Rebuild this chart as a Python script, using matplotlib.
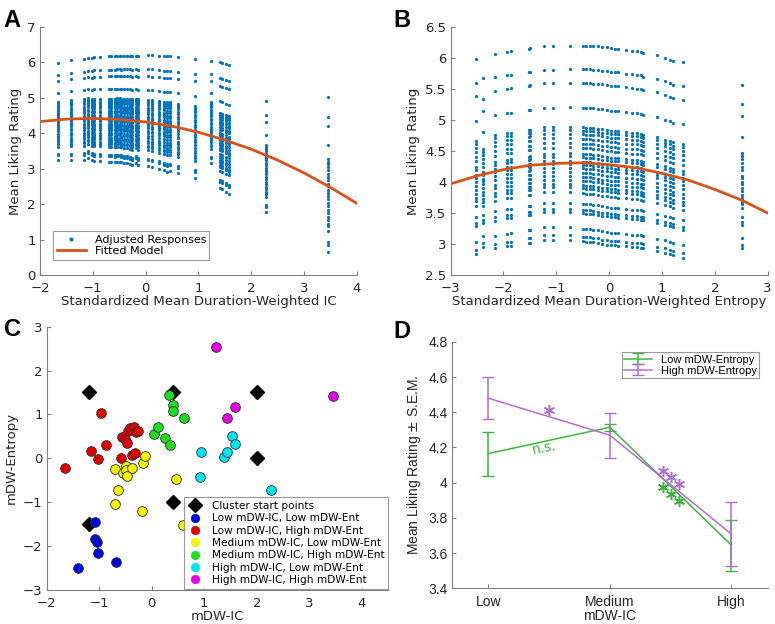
import numpy as np
import matplotlib
matplotlib.use('Agg')
import matplotlib.pyplot as plt

plt.rcParams['font.family'] = 'DejaVu Sans'

# ---- Panel A : columns of adjusted responses (x = IC, top / bottom of column)
a_x  = [-1.65, -1.42, -1.16, -1.09, -1.02, -0.97, -0.87, -0.70, -0.65, -0.58, -0.54, -0.49,
        -0.46, -0.41, -0.35, -0.30, -0.26, -0.19, -0.15, 0.05, 0.12, 0.26, 0.34, 0.41,
        0.46, 0.62, 0.94, 1.23, 1.40, 1.44, 1.52, 1.58, 2.27, 3.46]
a_hi = [5.99, 6.06, 6.10, 6.12, 6.12, 6.15, 6.15, 6.17, 6.17, 6.18, 6.18, 6.18,
        6.18, 6.19, 6.19, 6.19, 6.19, 6.19, 6.19, 6.20, 6.20, 6.18, 6.18, 6.17,
        6.17, 6.15, 6.10, 6.03, 6.00, 5.98, 5.96, 5.94, 4.92, 5.03]
a_lo = [3.24, 3.24, 3.24, 3.30, 3.25, 3.22, 3.22, 3.20, 3.20, 3.18, 3.20, 3.20,
        3.18, 3.15, 3.15, 3.12, 3.10, 3.15, 3.10, 3.08, 3.05, 3.00, 2.95, 2.92,
        2.93, 2.87, 2.75, 3.15, 2.45, 2.42, 2.35, 2.30, 1.77, 0.64]
# rating rows seen in a typical column (from 3.2 to 6.2)
a_rows = [6.20, 5.82, 5.63, 5.27, 5.00, 4.95, 4.90, 4.85, 4.78, 4.72, 4.65, 4.60, 4.52,
          4.47, 4.40, 4.35, 4.28, 4.22, 4.15, 4.10, 4.02, 3.95, 3.88, 3.82, 3.75, 3.70,
          3.62, 3.40, 3.35, 3.20]
a_fit_x = [-2, -1.5, -1, -0.5, 0, 0.5, 1, 1.5, 2, 2.5, 3, 3.5, 4]
a_fit_y = [4.33, 4.40, 4.42, 4.39, 4.32, 4.20, 4.03, 3.81, 3.55, 3.24, 2.88, 2.47, 2.02]

# ---- Panel B : columns (x = entropy)
b_x  = [-2.52, -2.38, -2.16, -1.93, -1.85, -1.52, -1.49, -1.23, -1.06, -0.74, -0.49, -0.43,
        -0.37, -0.30, -0.22, -0.14, -0.05, 0.04, 0.12, 0.17, 0.31, 0.43, 0.52, 0.60, 0.65,
        0.90, 1.06, 1.16, 1.21, 1.40, 2.51]
b_hi = [5.98, 5.67, 6.07, 6.10, 6.11, 6.15, 6.16, 6.19, 6.19, 6.20, 6.20, 6.20,
        6.20, 6.19, 6.19, 6.18, 6.17, 6.16, 6.15, 6.15, 6.13, 6.12, 6.11, 6.10, 6.08,
        6.05, 6.00, 5.97, 5.95, 5.93, 5.57]
b_lo = [2.84, 2.95, 2.93, 2.97, 2.97, 3.02, 3.02, 3.07, 3.07, 3.07, 3.05, 3.04,
        3.04, 3.03, 3.02, 3.00, 2.99, 2.98, 2.98, 2.97, 2.96, 2.95, 2.95, 2.94, 2.93,
        2.88, 2.86, 2.84, 2.82, 2.78, 2.93]
b_rows = [6.20, 5.82, 5.60, 5.20, 4.88, 4.83, 4.77, 4.70, 4.62, 4.55, 4.45, 4.40, 4.33,
          4.28, 4.22, 4.15, 4.08, 4.02, 3.95, 3.90, 3.82, 3.65, 3.55, 3.50, 3.25, 3.12, 3.05]
b_fit_x = [-3, -2.5, -2, -1.5, -1, -0.5, 0, 0.5, 1, 1.5, 2, 2.5, 3]
b_fit_y = [3.97, 4.10, 4.20, 4.27, 4.30, 4.31, 4.28, 4.23, 4.14, 4.03, 3.88, 3.71, 3.50]

# ---- Panel C : cluster points (mDW-IC, mDW-Entropy)
start_ic  = [-1.2, 0.4, 2.0, -1.2, 0.4, 2.0]
start_ent = [1.5, 1.5, 1.5, -1.5, -1.0, 0.0]
clusters = {
    'Low mDW-IC, Low mDW-Ent': ([-1.41, -1.09, -1.09, -1.04, -1.02, -0.68],
                                [-2.50, -1.46, -1.84, -1.90, -2.15, -2.37]),
    'Low mDW-IC, High mDW-Ent': ([-1.66, -1.16, -1.02, -0.97, -0.87, -0.59, -0.56, -0.50,
                                 -0.48, -0.46, -0.41, -0.34, -0.30, -0.26, -0.37, -0.31],
                                [-0.21, 0.16, -0.01, 1.04, 0.31, 0.01, 0.49, 0.43,
                                 0.34, 0.62, 0.68, 0.71, 0.59, 0.62, 0.08, 0.13]),
    'Medium mDW-IC, Low mDW-Ent': ([-0.70, -0.65, -0.70, -0.54, -0.49, -0.49, -0.48, -0.37,
                                   -0.16, -0.12, -0.19, 0.46, 0.60],
                                  [-0.25, -0.72, -1.05, -0.34, -0.18, -0.26, -0.40, -0.21,
                                   -0.11, 0.05, -1.21, -0.48, -1.52]),
    'Medium mDW-IC, High mDW-Ent': ([0.05, 0.12, 0.26, 0.34, 0.33, 0.41, 0.41, 0.62],
                                   [0.55, 0.71, 0.46, 0.31, 1.45, 1.22, 1.07, 0.92]),
    'High mDW-IC, Low mDW-Ent': ([0.94, 0.92, 1.38, 1.44, 1.52, 1.58, 2.27],
                                [0.15, -0.43, 0.04, 0.15, 0.52, 0.33, -0.72]),
    'High mDW-IC, High mDW-Ent': ([1.23, 1.43, 1.58, 3.46],
                                 [2.54, 0.93, 1.16, 1.41]),
}
cluster_colors = ['#0000e6', '#e00000', '#f5f500', '#1edc1e', '#00e6f0', '#e600e6']

# ---- Panel D : means and S.E.M.
levels = ['Low', 'Medium', 'High']
low_ent_mean = [4.165, 4.315, 3.645]
low_ent_sem  = [0.125, 0.02, 0.145]
high_ent_mean = [4.48, 4.27, 3.708]
high_ent_sem  = [0.12, 0.128, 0.18]
# significance stars (x, y)
star1_x, star1_y = [1.50], [4.41]
star3p_x, star3p_y = [2.44, 2.50, 2.57], [4.065, 4.03, 3.99]
star3g_x, star3g_y = [2.44, 2.50, 2.57], [3.975, 3.935, 3.895]

blue = '#0072bd'
orange = '#d95319'
axcol = '#808080'
txtcol = '#262626'


def style(ax):
    for s in ['top', 'right']:
        ax.spines[s].set_visible(False)
    for s in ['left', 'bottom']:
        ax.spines[s].set_color(axcol)
        ax.spines[s].set_linewidth(0.8)
    ax.tick_params(direction='in', length=3, color=axcol, labelcolor=txtcol, labelsize=9.5, pad=3)
    ax.tick_params(axis='x', pad=5)


def columns(xs, his, los, rows):
    rows = np.array(rows)
    frac = (rows - rows.min()) / (rows.max() - rows.min())
    px, py = [], []
    for x, hi, lo in zip(xs, his, los):
        px += [x] * len(rows)
        py += list(lo + frac * (hi - lo))
    return px, py


fig = plt.figure(figsize=(7.75, 6.24), dpi=100)

# Panel A
axA = fig.add_axes([0.0516, 0.5593, 0.409, 0.3974])
px, py = columns(a_x, a_hi, a_lo, a_rows)
axA.plot(px, py, '.', color=blue, ms=2.6, label='Adjusted Responses')
axA.plot(a_fit_x, a_fit_y, '-', color=orange, lw=2, label='Fitted Model')
axA.set_xlim(-2, 4)
axA.set_ylim(0, 7)
axA.set_xlabel('Standardized Mean Duration-Weighted IC', fontsize=9.5, color=txtcol, labelpad=0)
axA.set_ylabel('Mean Liking Rating', fontsize=9.5, color=txtcol)
style(axA)
legA = axA.legend(loc='lower left', fontsize=8, frameon=True, fancybox=False,
                  edgecolor=axcol, borderpad=0.3, labelspacing=0.15, handlelength=2.6,
                  bbox_to_anchor=(0.025, 0.04), markerscale=1.5)
legA.get_frame().set_linewidth(0.8)

# Panel B
axB = fig.add_axes([0.5815, 0.5593, 0.409, 0.3974])
px, py = columns(b_x, b_hi, b_lo, b_rows)
axB.plot(px, py, '.', color=blue, ms=2.6)
axB.plot(b_fit_x, b_fit_y, '-', color=orange, lw=2)
axB.set_xlim(-3, 3)
axB.set_ylim(2.5, 6.5)
axB.set_yticks(np.arange(2.5, 6.51, 0.5))
axB.set_yticklabels(['2.5', '3', '3.5', '4', '4.5', '5', '5.5', '6', '6.5'])
axB.set_xlabel('Standardized Mean Duration-Weighted Entropy', fontsize=9.5, color=txtcol, labelpad=0)
axB.set_ylabel('Mean Liking Rating', fontsize=9.5, color=txtcol)
style(axB)

# Panel C
axC = fig.add_axes([0.0603, 0.0545, 0.4404, 0.422])
axC.plot(start_ic, start_ent, 'D', color='black', ms=7, label='Cluster start points')
for (name, (cx, cy)), col in zip(clusters.items(), cluster_colors):
    axC.plot(cx, cy, 'o', mfc=col, mec='#303030', mew=0.6, ms=7, label=name)
axC.set_xlim(-2, 4.5)
axC.set_ylim(-3, 3)
axC.set_xticks(range(-2, 5))
axC.set_xlabel('mDW-IC', fontsize=9.5, color=txtcol, labelpad=0)
axC.set_ylabel('mDW-Entropy', fontsize=9.5, color=txtcol)
style(axC)
legC = axC.legend(loc='lower right', fontsize=7.6, frameon=True, fancybox=False,
                  edgecolor=axcol, borderpad=0.35, labelspacing=0.22, handlelength=1.5,
                  bbox_to_anchor=(1.0, 0.005), borderaxespad=0)
legC.get_frame().set_linewidth(0.8)
for h, col in zip(legC.legend_handles[1:], cluster_colors):
    h.set_mec(col)
    h.set_markersize(6)

# Panel D
green = '#3cb43c'
purple = '#b06ed0'
axD = fig.add_axes([0.5828, 0.0572, 0.408, 0.395])
xd = np.arange(1, len(levels) + 1)
axD.errorbar(xd, low_ent_mean, yerr=low_ent_sem, color=green, lw=1.1, capsize=4,
             elinewidth=1.1, label='Low mDW-Entropy')
axD.errorbar(xd, high_ent_mean, yerr=high_ent_sem, color=purple, lw=1.1, capsize=4,
             elinewidth=1.1, label='High mDW-Entropy')
axD.set_xlim(0.7, 3.3)
axD.set_ylim(3.4, 4.8)
axD.set_xticks(xd)
axD.set_xticklabels(levels)
axD.set_yticks(np.arange(3.4, 4.81, 0.2))
axD.set_yticklabels(['3.4', '3.6', '3.8', '4', '4.2', '4.4', '4.6', '4.8'])
style(axD)
for t in axD.get_xticklabels() + axD.get_yticklabels():
    t.set_fontfamily('Liberation Sans')
    t.set_fontsize(10)
axD.set_xlabel('mDW-IC', fontsize=10, color=txtcol, family='Liberation Sans', labelpad=0)
axD.set_ylabel('Mean Liking Rating $\\pm$ S.E.M.', fontsize=10, color=txtcol,
               family='Liberation Sans')
# significance marks
ast = (6, 2, 0)
axD.plot(star1_x, star1_y, ls='none', marker=ast, ms=8, mew=1.1, color=purple)
axD.plot(star3p_x, star3p_y, ls='none', marker=ast, ms=8, mew=1.1, color=purple)
axD.plot(star3g_x, star3g_y, ls='none', marker=ast, ms=8, mew=1.1, color=green)
axD.text(1.46, 4.20, 'n.s.', color=green, fontsize=10, ha='center', va='center', rotation=10)
legD = axD.legend(loc='upper right', frameon=True, fancybox=False,
                  edgecolor=axcol, borderpad=0.2, labelspacing=0.1, handlelength=2.5,
                  bbox_to_anchor=(0.99, 0.98), prop={'family': 'Liberation Sans', 'size': 8})
legD.get_frame().set_linewidth(0.8)

# panel letters
for lab, x, y in [('A', 0.005, 0.985), ('B', 0.508, 0.985), ('C', 0.005, 0.49), ('D', 0.508, 0.487)]:
    fig.text(x, y, lab, fontsize=17, fontweight='bold', family='Liberation Sans',
             ha='left', va='top')

fig.savefig('out.png', dpi=100)
